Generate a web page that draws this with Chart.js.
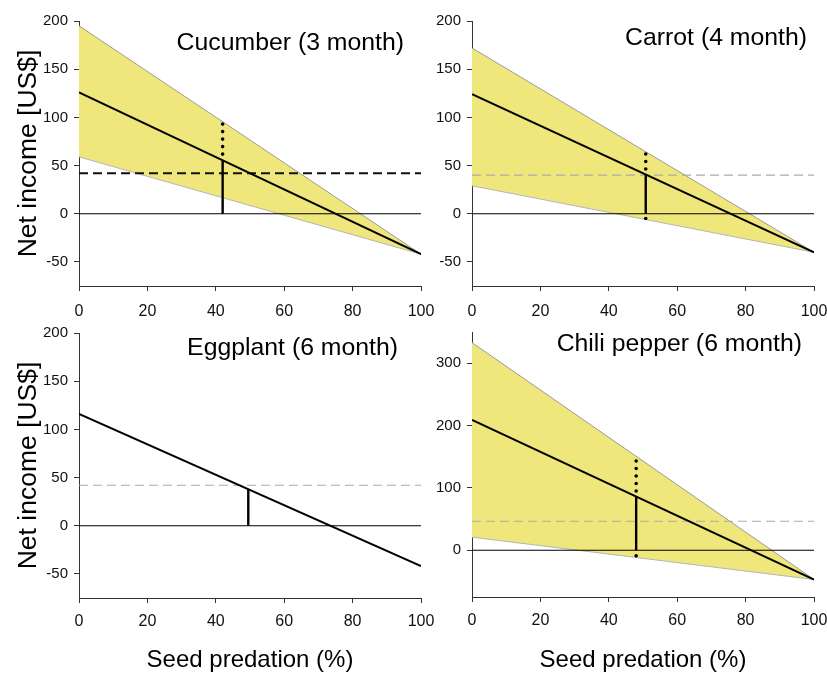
<!DOCTYPE html>
<html><head><meta charset="utf-8">
<script src="https://cdn.jsdelivr.net/npm/chart.js@4.4.1/dist/chart.umd.min.js"></script>
<style>
html,body{margin:0;padding:0;background:#fff;}
#wrap{position:relative;width:827px;height:675px;overflow:hidden;font-family:"Liberation Sans",Arial,sans-serif;}
canvas{position:absolute;left:0;top:0;pointer-events:none;}
.ttl{position:absolute;font-size:24.8px;line-height:24px;white-space:nowrap;color:#000;text-align:right;}
</style></head><body>
<div id="wrap">
<canvas id="c1" width="827" height="675"></canvas>
<canvas id="c2" width="827" height="675"></canvas>
<canvas id="c3" width="827" height="675"></canvas>
<canvas id="c4" width="827" height="675"></canvas>
<div class="ttl" style="right:423px;top:30px">Cucumber (3 month)</div>
<div class="ttl" style="right:20px;top:25px">Carrot (4 month)</div>
<div class="ttl" style="right:429px;top:335px">Eggplant (6 month)</div>
<div class="ttl" style="right:25px;top:331px">Chili pepper (6 month)</div>
</div>
<script>
// ---- data ----
const xEnds = [0, 100];
const xTicks = [0, 20, 40, 60, 80, 100];
const yTicksSmall = [-50, 0, 50, 100, 150, 200];
const yTicksLarge = [0, 100, 200, 300];
const zeroLine = [0, 0];

const cucumberMean = [126, -42];
const cucumberUpper = [195, -42];
const cucumberLower = [59, -42];
const cucumberThreshold = [42, 42];
const cucumberMarkX = 42;
const cucumberMarkMean = 55;
const cucumberMarkRange = [17, 93];

const carrotMean = [124, -40];
const carrotUpper = [172, -40];
const carrotLower = [29, -40];
const carrotThreshold = [40, 40];
const carrotMarkX = 50.8;
const carrotMarkMean = 41;
const carrotMarkRange = [-5, 62];

const eggplantMean = [116, -42];
const eggplantThreshold = [42, 42];
const eggplantMarkX = 49.5;
const eggplantMarkMean = 38;

const chiliMean = [209, -47];
const chiliUpper = [333, -47];
const chiliLower = [21, -47];
const chiliThreshold = [46.5, 46.5];
const chiliMarkX = 48;
const chiliMarkMean = 86;
const chiliMarkRange = [-9, 143];

// ---- styles ----
const FONT = '"Liberation Sans", Arial, sans-serif';
const YELLOW = '#EFE77B';
const BAND_EDGE = '#9a9a9a';
const AXIS = '#333';

function pts(ys) { return xEnds.map((x, i) => ({x: x, y: ys[i]})); }
function vline(x, ys) { return ys.map(y => ({x: x, y: y})); }

function makePanel(id, p) {
  const ds = [];
  if (p.upper) {
    ds.push({data: pts(p.upper), borderColor: BAND_EDGE, borderWidth: 1, backgroundColor: YELLOW, fill: '+1', order: 10});
    ds.push({data: pts(p.lower), borderColor: '#b5b5b5', borderWidth: 1, fill: false, order: 9});
  }
  ds.push({data: pts(p.threshold), borderColor: p.thrColor, borderWidth: p.thrWidth, borderDash: [9, 5], fill: false, order: 8});
  ds.push({data: pts(zeroLine), borderColor: '#000', borderWidth: 1.2, fill: false, order: 7});
  ds.push({data: pts(p.mean), borderColor: '#000', borderWidth: 2, fill: false, order: 6});
  const dotted = {borderColor: '#000', borderWidth: 3.6, borderDash: [0, 7.5], borderCapStyle: 'round', fill: false, order: 5};
  if (p.range) {
    // dotted from upper bound down to mean
    ds.push(Object.assign({data: vline(p.markX, [p.range[1], p.markMean])}, dotted));
    // dotted from lower bound up to zero (only visible where below zero)
    if (p.range[0] < 0) ds.push(Object.assign({data: vline(p.markX, [p.range[0], 0])}, dotted));
  }
  ds.push({data: vline(p.markX, [0, p.markMean]), borderColor: '#000', borderWidth: 2.4, fill: false, order: 4});
  ds.forEach(d => { d.pointRadius = 0; d.tension = 0; });

  new Chart(document.getElementById(id), {
    type: 'line',
    data: {datasets: ds},
    options: {
      responsive: false, animation: false,
      layout: {padding: p.pad},
      plugins: {legend: {display: false}, tooltip: {enabled: false}},
      scales: {
        x: {
          type: 'linear', min: 0, max: 100,
          afterBuildTicks: s => { s.ticks = xTicks.map(v => ({value: v})); },
          afterFit: s => { s.height = p.xH; s.paddingLeft = 0; s.paddingRight = 0; },
          ticks: {font: {family: FONT, size: 16}, color: '#111', padding: p.xPad, maxRotation: 0},
          grid: {display: true, drawOnChartArea: false, drawTicks: true, tickLength: 5, color: AXIS, lineWidth: 1},
          border: {display: true, color: AXIS, width: 1},
          title: {display: p.xTitle, text: 'Seed predation (%)', font: {family: FONT, size: 24}, color: '#000', padding: {top: 0, bottom: 0}}
        },
        y: {
          type: 'linear', min: p.yMin, max: p.yMax,
          afterBuildTicks: s => { s.ticks = p.yTicks.map(v => ({value: v})); },
          afterFit: s => { s.width = p.yW; s.paddingTop = 0; s.paddingBottom = 0; },
          ticks: {font: {family: FONT, size: 15}, color: '#111', padding: 6},
          grid: {display: true, drawOnChartArea: false, drawTicks: true, tickLength: 5, color: AXIS, lineWidth: 1},
          border: {display: true, color: AXIS, width: 1},
          title: {display: p.yTitle, text: 'Net income [US$]', font: {family: FONT, size: 26.5}, color: '#000', padding: {top: 13, bottom: 0}}
        }
      }
    }
  });
}

makePanel('c1', {mean: cucumberMean, upper: cucumberUpper, lower: cucumberLower, threshold: cucumberThreshold,
  thrColor: '#111', thrWidth: 2, markX: cucumberMarkX, markMean: cucumberMarkMean, range: cucumberMarkRange,
  yMin: -75, yMax: 200, yTicks: yTicksSmall, yW: 79, xH: 44, xPad: 11, pad: {left: 0, right: 406, top: 21, bottom: 345}, yTitle: true, xTitle: false});
makePanel('c2', {mean: carrotMean, upper: carrotUpper, lower: carrotLower, threshold: carrotThreshold,
  thrColor: '#aaa', thrWidth: 1.2, markX: carrotMarkX, markMean: carrotMarkMean, range: carrotMarkRange,
  yMin: -75, yMax: 200, yTicks: yTicksSmall, yW: 60, xH: 44, xPad: 11, pad: {left: 412, right: 13, top: 21, bottom: 345}, yTitle: false, xTitle: false});
makePanel('c3', {mean: eggplantMean, threshold: eggplantThreshold,
  thrColor: '#aaa', thrWidth: 1.2, markX: eggplantMarkX, markMean: eggplantMarkMean,
  yMin: -75, yMax: 200, yTicks: yTicksSmall, yW: 79, xH: 77, xPad: 9, pad: {left: 0, right: 406, top: 333, bottom: 0}, yTitle: true, xTitle: true});
makePanel('c4', {mean: chiliMean, upper: chiliUpper, lower: chiliLower, threshold: chiliThreshold,
  thrColor: '#aaa', thrWidth: 1.2, markX: chiliMarkX, markMean: chiliMarkMean, range: chiliMarkRange,
  yMin: -75, yMax: 350, yTicks: yTicksLarge, yW: 60, xH: 78, xPad: 9, pad: {left: 412, right: 13, top: 332, bottom: 0}, yTitle: false, xTitle: true});
</script>
</body></html>
